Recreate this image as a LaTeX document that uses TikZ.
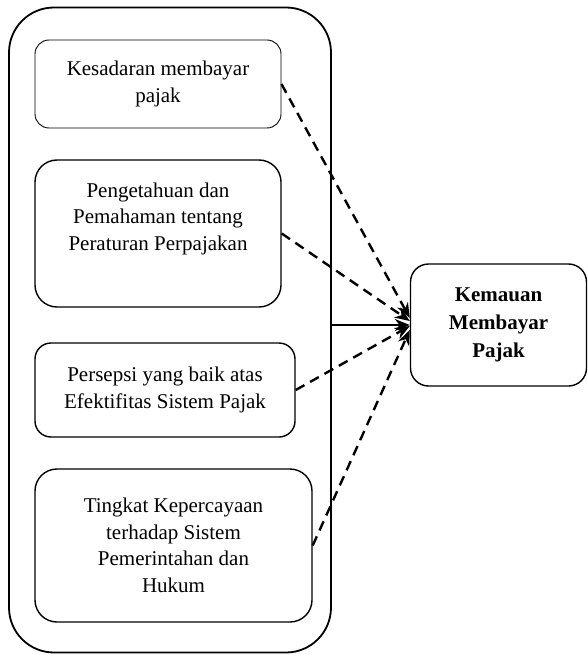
\documentclass[tikz,border=0pt]{standalone}
\usepackage{fontspec}
\setmainfont{Liberation Serif}
\usetikzlibrary{arrows.meta}
\begin{document}
\begin{tikzpicture}[x=1pt,y=-1pt,
 box/.style={draw,line width=1.4pt,rounded corners=22pt,align=center,inner sep=0pt,
  font=\fontsize{21}{26.5}\selectfont},
 dep/.style={line width=2.4pt,dash pattern=on 10pt off 6.5pt,-{Stealth[length=15pt,width=12pt]}}]
 \useasboundingbox (0,0) rectangle (588,655);
 \node[box,line width=1.8pt,rounded corners=45pt,minimum width=322,minimum height=645] (outer) at (170,330) {};
 \node[box,line width=0.9pt,rounded corners=14pt,minimum width=246,minimum height=88] (sadar) at (158,84) {Kesadaran membayar\\pajak};
 \node[box,minimum width=246,minimum height=147] (tahu) at (158,233.5) {Pengetahuan dan\\Pemahaman tentang\\Peraturan Perpajakan\\ \strut};
 \node[box,rounded corners=16pt,minimum width=260,minimum height=94] (persepsi) at (165,390) {Persepsi yang baik atas\\Efektifitas Sistem Pajak};
 \node[box,minimum width=277,minimum height=153] (percaya) at (173.5,545.5) {Tingkat Kepercayaan\\terhadap Sistem\\Pemerintahan dan\\Hukum};
 \node[box,rounded corners=18pt,minimum width=176,minimum height=122,font=\fontsize{21}{28}\selectfont\bfseries] (mau) at (498.5,325) {Kemauan\\Membayar\\Pajak};
 % panah
 \draw[line width=2pt,-{Stealth[length=15pt,width=12pt]}] (outer.east |- mau.west) -- (mau.west);
 \draw[dep] (sadar.east) -- ([yshift=7pt]mau.west);
 \draw[dep] (tahu.east) -- ([yshift=4pt]mau.west);
 \draw[dep] (persepsi.east) -- ([yshift=-1pt]mau.west);
 \draw[dep] (percaya.east) -- ([yshift=-5pt]mau.west);
\end{tikzpicture}
\end{document}
